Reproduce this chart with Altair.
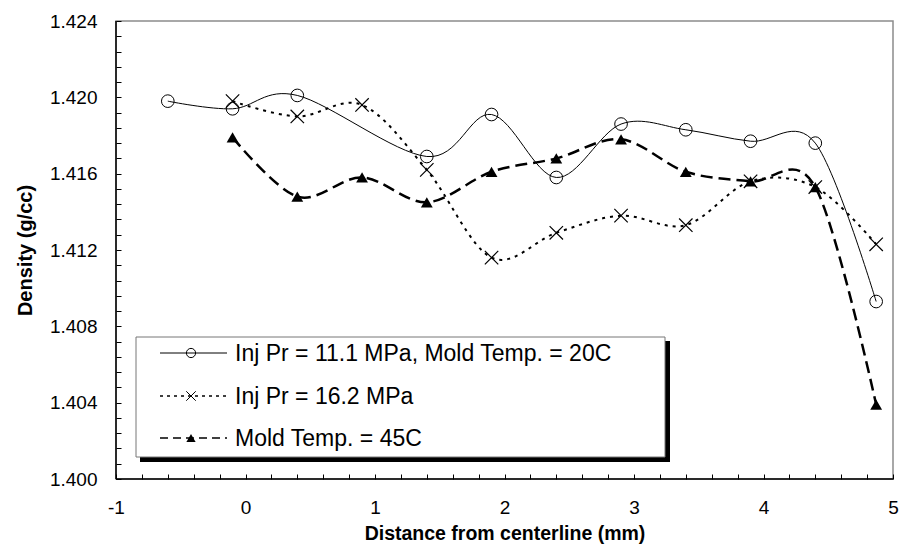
import altair as alt
import pandas as pd

# Series labels and measured densities (g/cc) versus distance from the centerline (mm)
series_names = [
    "Inj Pr = 11.1 MPa, Mold Temp. = 20C",
    "Inj Pr = 16.2 MPa",
    "Mold Temp. = 45C",
]

dist_a = [-0.6, -0.1, 0.4, 1.4, 1.9, 2.4, 2.9, 3.4, 3.9, 4.4, 4.87]
dens_a = [1.4198, 1.4194, 1.4201, 1.4169, 1.4191, 1.4158, 1.4186, 1.4183, 1.4177, 1.4176, 1.4093]

dist_b = [-0.1, 0.4, 0.9, 1.4, 1.9, 2.4, 2.9, 3.4, 3.9, 4.4, 4.87]
dens_b = [1.4198, 1.4190, 1.4196, 1.4162, 1.4116, 1.4129, 1.4138, 1.4133, 1.4156, 1.4153, 1.4123]

dist_c = [-0.1, 0.4, 0.9, 1.4, 1.9, 2.4, 2.9, 3.4, 3.9, 4.4, 4.87]
dens_c = [1.4179, 1.4148, 1.4158, 1.4145, 1.4161, 1.4168, 1.4178, 1.4161, 1.4156, 1.4153, 1.4039]

# Axis labels (major) and the minor step between tick marks
x_major = [-1, 0, 1, 2, 3, 4, 5]
y_major = [1.400, 1.404, 1.408, 1.412, 1.416, 1.420, 1.424]
x_minor_step = 0.2
y_minor_step = 0.0008

x_tick_values = [round(x_major[0] + i * x_minor_step, 4)
                 for i in range(int(round((x_major[-1] - x_major[0]) / x_minor_step)) + 1)]
y_tick_values = [round(y_major[0] + i * y_minor_step, 5)
                 for i in range(int(round((y_major[-1] - y_major[0]) / y_minor_step)) + 1)]

W, H = 777, 458
FONT = "Liberation Sans"

df_a = pd.DataFrame({"distance": dist_a, "density": dens_a})
df_b = pd.DataFrame({"distance": dist_b, "density": dens_b})
df_c = pd.DataFrame({"distance": dist_c, "density": dens_c})

x_scale = alt.Scale(domain=[x_major[0], x_major[-1]], nice=False, zero=False)
y_scale = alt.Scale(domain=[y_major[0], y_major[-1]], nice=False, zero=False)

x_axis = alt.Axis(
    values=x_tick_values,
    labelExpr="abs(round(datum.value * 10)) % 10 == 0 ? '' + round(datum.value) : ''",
    offset=-5, tickSize=5, tickColor="black", tickWidth=1, domain=False, grid=False,
    labelFont=FONT, labelFontSize=19, labelColor="black", labelPadding=19,
    labelFlush=False, labelOverlap=False, labelBound=False,
    title="Distance from centerline (mm)", titleFont=FONT, titleFontSize=19.5,
    titleFontWeight="bold", titleColor="black", titlePadding=7,
)
y_axis = alt.Axis(
    values=y_tick_values,
    labelExpr="round(datum.value * 10000) % 40 == 0 ? format(datum.value, '.3f') : ''",
    offset=-5, tickSize=5, tickColor="black", tickWidth=1, domain=False, grid=False,
    labelFont=FONT, labelFontSize=19, labelColor="black", labelPadding=19,
    labelFlush=False, labelOverlap=False, labelBound=False,
    title="Density (g/cc)", titleFont=FONT, titleFontSize=20,
    titleFontWeight="bold", titleColor="black", titlePadding=14,
)


def xy():
    return dict(
        x=alt.X("distance:Q", scale=x_scale, axis=x_axis),
        y=alt.Y("density:Q", scale=y_scale, axis=y_axis),
    )


CROSS = "M-1,-1L1,1M-1,1L1,-1"

line_a = alt.Chart(df_a).mark_line(
    interpolate="cardinal", tension=0, color="black", strokeWidth=1
).encode(order="distance:Q", **xy())
pts_a = alt.Chart(df_a).mark_point(
    shape="circle", filled=False, size=160, color="black", strokeWidth=1, opacity=1
).encode(**xy())

line_b = alt.Chart(df_b).mark_line(
    interpolate="cardinal", tension=0, color="black", strokeWidth=2, strokeDash=[3, 5]
).encode(order="distance:Q", **xy())
pts_b = alt.Chart(df_b).mark_point(
    shape=CROSS, filled=False, size=180, color="black", strokeWidth=1.2, opacity=1
).encode(**xy())

line_c = alt.Chart(df_c).mark_line(
    interpolate="cardinal", tension=0, color="black", strokeWidth=2.5, strokeDash=[12, 6]
).encode(order="distance:Q", **xy())
pts_c = alt.Chart(df_c).mark_point(
    shape="triangle-up", filled=True, size=140, color="black", opacity=1
).encode(**xy())

one = pd.DataFrame({"k": [0]})

# Frame: black left and bottom edges over the grey view border
left_edge = alt.Chart(one).mark_rule(color="black", strokeWidth=1.5).encode(
    x=alt.value(0), y=alt.value(0), y2=alt.value(H))
bottom_edge = alt.Chart(one).mark_rule(color="black", strokeWidth=1.5).encode(
    x=alt.value(0), x2=alt.value(W), y=alt.value(H))

# Legend box with drop shadow
shadow = alt.Chart(one).mark_rect(color="black").encode(
    x=alt.value(24), x2=alt.value(554), y=alt.value(320), y2=alt.value(441))
box = alt.Chart(one).mark_rect(fill="white", stroke="#777777", strokeWidth=1).encode(
    x=alt.value(20), x2=alt.value(549), y=alt.value(316), y2=alt.value(436))

row_y = [332, 375, 417]
row_styles = [
    dict(line=dict(strokeWidth=1), mark=dict(shape="circle", filled=False, size=85, strokeWidth=1)),
    dict(line=dict(strokeWidth=1.5, strokeDash=[3, 4]), mark=dict(shape=CROSS, filled=False, size=90, strokeWidth=1)),
    dict(line=dict(strokeWidth=1.5, strokeDash=[8, 5]), mark=dict(shape="triangle-up", filled=True, size=85)),
]

legend_layers = [shadow, box]
for name, ry, st in zip(series_names, row_y, row_styles):
    legend_layers.append(
        alt.Chart(one).mark_rule(color="black", **st["line"]).encode(
            x=alt.value(44), x2=alt.value(111), y=alt.value(ry)))
    legend_layers.append(
        alt.Chart(one).mark_point(color="black", opacity=1, **st["mark"]).encode(
            x=alt.value(75), y=alt.value(ry)))
    legend_layers.append(
        alt.Chart(pd.DataFrame({"label": [name]})).mark_text(
            align="left", baseline="middle", font=FONT, fontSize=23, color="black"
        ).encode(x=alt.value(119), y=alt.value(ry + 1), text="label:N"))

chart = alt.layer(
    line_a, line_b, line_c, pts_a, pts_b, pts_c, left_edge, bottom_edge, *legend_layers
).properties(
    width=W, height=H,
    padding={"left": 116, "top": 21, "right": 7, "bottom": 66},
    autosize=alt.AutoSizeParams(type="none"),
    background="white",
).configure_view(stroke="#8c8c8c", strokeWidth=1.5)

chart.save("out.html", embed_options={"renderer": "svg", "actions": False})
